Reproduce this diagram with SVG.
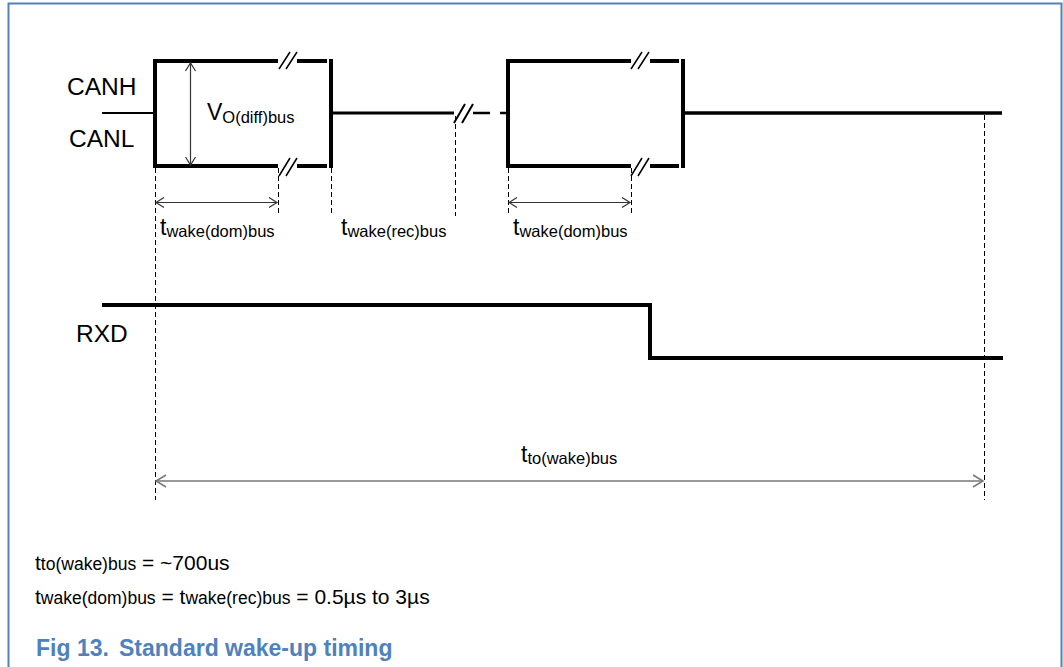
<svg xmlns="http://www.w3.org/2000/svg" width="1063" height="667" viewBox="0 0 1063 667">
<style>
text{font-family:"Liberation Sans",Arial,sans-serif;fill:#000}
.sig{stroke:#000;stroke-width:4;fill:none;stroke-linecap:butt}
.thin{stroke:#000;stroke-width:2;fill:none}
.brk{stroke:#000;stroke-width:1.5;fill:none}
.dash{stroke:#000;stroke-width:1;stroke-dasharray:5,3;fill:none}
.dim{stroke:#333;stroke-width:1.2;fill:none;marker-start:url(#ah);marker-end:url(#ah)}
.dimg{stroke:#777;stroke-width:1.5;fill:none;marker-start:url(#ahg);marker-end:url(#ahg)}
.lbl{font-size:24.5px}
.tl{font-size:23px}
.sub{font-size:16.5px}
.note{font-size:21px}
.nsub{font-size:17.5px}
.cap{font-size:23px;font-weight:bold;fill:#4f81bd}
</style>
<defs>
<marker id="ah" markerWidth="12" markerHeight="12" refX="9" refY="6" orient="auto-start-reverse" markerUnits="userSpaceOnUse">
<path d="M1,1 L9,6 L1,11" fill="none" stroke="#333" stroke-width="1.2"/>
</marker>
<marker id="ahg" markerWidth="14" markerHeight="14" refX="11" refY="7" orient="auto-start-reverse" markerUnits="userSpaceOnUse">
<path d="M1,1 L11,7 L1,13" fill="none" stroke="#777" stroke-width="1.5"/>
</marker>
</defs>
<rect width="1063" height="667" fill="#fff"/>
<g id="frame" fill="none" stroke="#4f81bd" stroke-width="2">
<path d="M8.5,667 V3.5 H1061.5 V667"/>
</g>
<g id="labels">
<text class="lbl" x="67" y="95">CANH</text>
<text class="lbl" x="69" y="147">CANL</text>
<text class="lbl" x="76" y="342">RXD</text>
</g>
<g id="canbus">
<path class="thin" d="M102,113 H155"/>
<path class="sig" d="M278,61 H155 V166 H278"/>
<path class="sig" d="M297,61 H327"/>
<path class="sig" d="M297,166 H327"/>
<path class="sig" d="M331,59 V168"/>
<path class="sig" d="M331,113 H454" style="stroke-width:3"/>
<path class="sig" d="M473,113 H490 M500,113 H506" style="stroke-width:2.5"/>
<path class="sig" d="M631,61 H508 V166 H631"/>
<path class="sig" d="M650,61 H679"/>
<path class="sig" d="M650,166 H679"/>
<path class="sig" d="M683,59 V168"/>
<path class="sig" d="M683,113 H1002" style="stroke-width:3.5"/>
</g>
<g id="breaks">
<path class="brk" d="M279,69 L290,52 M286,69 L297,52"/>
<path class="brk" d="M279,176 L290,158 M286,176 L297,158"/>
<path class="brk" d="M454,123 L465,104 M462,123 L473,104" style="stroke-width:2"/>
<path class="brk" d="M631,69 L642,52 M638,69 L649,52"/>
<path class="brk" d="M631,176 L642,158 M638,176 L649,158"/>
</g>
<g id="rxd">
<path class="sig" d="M102,305 H650 V358 H1003"/>
</g>
<g id="connectors">
<path class="dash" d="M155.5,168 V500"/>
<path class="dash" d="M278.5,168 V216"/>
<path class="dash" d="M331.5,168 V216"/>
<path class="dash" d="M455.5,116 V216"/>
<path class="dash" d="M508.5,168 V216"/>
<path class="dash" d="M631.5,168 V216"/>
<path class="dash" d="M984.5,115 V500"/>
<path class="dim" d="M190.5,63 V165"/>
<path class="dim" d="M156,202.5 H277"/>
<path class="dim" d="M509,202.5 H630"/>
<path class="dimg" d="M156,481 H983"/>
</g>
<g id="dimlabels">
<text class="tl" x="207" y="120">V<tspan class="sub" dy="3">O(diff)bus</tspan></text>
<text class="tl" x="160" y="235">t<tspan class="sub" dy="2">wake(dom)bus</tspan></text>
<text class="tl" x="341" y="235">t<tspan class="sub" dy="2">wake(rec)bus</tspan></text>
<text class="tl" x="513" y="235">t<tspan class="sub" dy="2">wake(dom)bus</tspan></text>
<text class="tl" x="521" y="462">t<tspan class="sub" dy="2">to(wake)bus</tspan></text>
</g>
<g id="notes">
<text class="note" x="35" y="570">t<tspan class="nsub">to(wake)bus</tspan> = ~700us</text>
<text class="note" x="35" y="604">t<tspan class="nsub">wake(dom)bus</tspan> = t<tspan class="nsub">wake(rec)bus</tspan> = 0.5µs to 3µs</text>
<text class="cap" x="36" y="656">Fig 13.<tspan x="119">Standard wake-up timing</tspan></text>
</g>
</svg>
